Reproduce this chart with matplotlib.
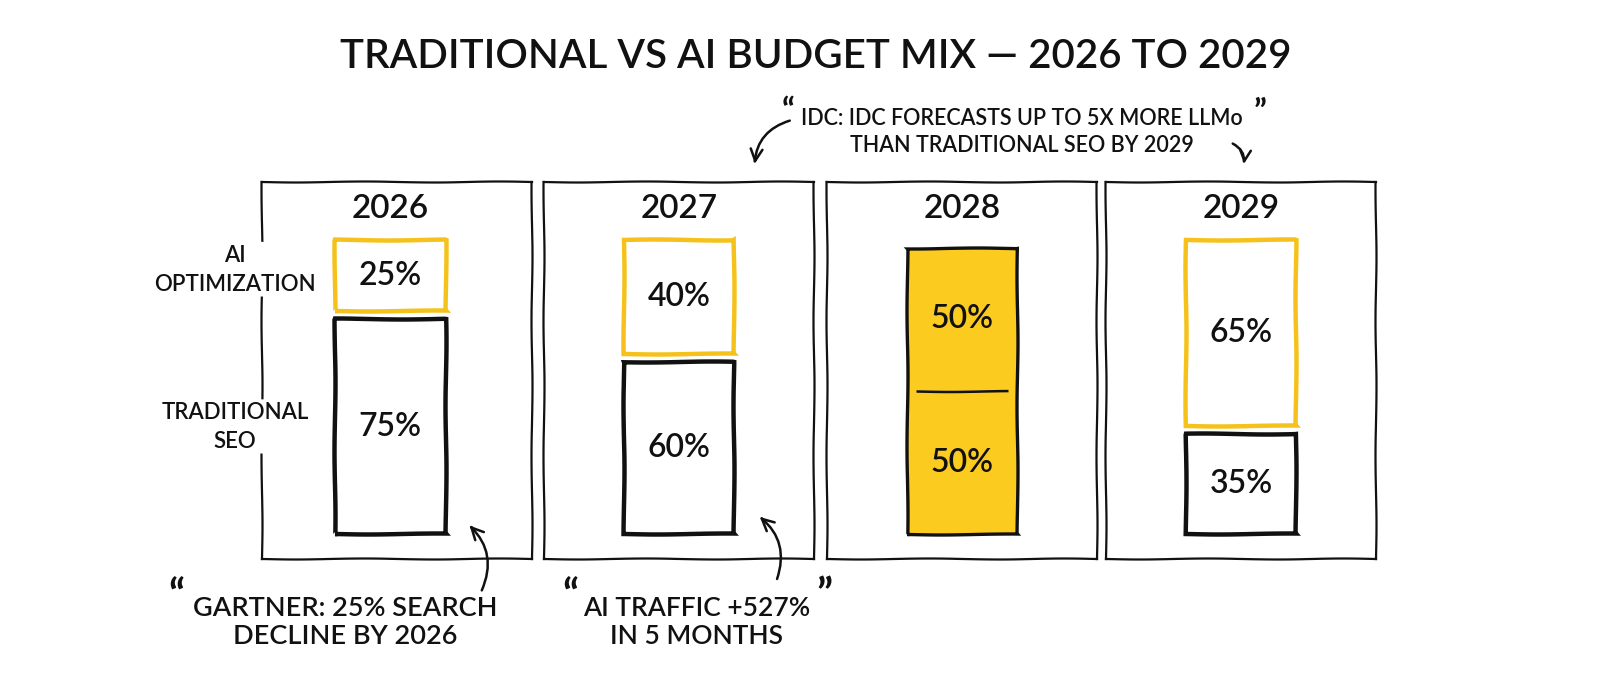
import numpy as np
import matplotlib
matplotlib.use("Agg")
import matplotlib.pyplot as plt

# Budget split per year (percent)
years = ["2026", "2027", "2028", "2029"]
ai_share = [25, 40, 50, 65]
traditional_share = [75, 60, 50, 35]
segment_labels = ["AI\nOPTIMIZATION", "TRADITIONAL\nSEO"]

title = "TRADITIONAL VS AI BUDGET MIX \u2014 2026 TO 2029"
idc_note = "IDC: IDC FORECASTS UP TO 5X MORE LLMo\nTHAN TRADITIONAL SEO BY 2029"
gartner_note = "GARTNER: 25% SEARCH\nDECLINE BY 2026"
traffic_note = "AI TRAFFIC +527%\nIN 5 MONTHS"

YELLOW = "#FBCB1F"
YELLOW_EDGE = "#F5C21B"
INK = "#111111"
GAP = 2.8

plt.rcParams["font.family"] = ["Lato", "DejaVu Sans"]
plt.rcParams["font.weight"] = "semibold"
plt.rcParams["path.sketch"] = (0.5, 140, 1.5)

fig = plt.figure(figsize=(16, 6.79), dpi=100)
W, H = 1600, 679

# panel boxes (left edge in pixels)
panel_left = [262, 544, 827, 1106]
panel_w, panel_top, panel_bottom = 270, 182, 559

axes = []
for i, year in enumerate(years):
    ax = fig.add_axes([panel_left[i] / W, 1 - panel_bottom / H,
                       panel_w / W, (panel_bottom - panel_top) / H])
    ax.set_xlim(-0.5, 0.5)
    ax.set_ylim(-8.7, 123)
    ax.set_xticks([])
    ax.set_yticks([])
    for sp in ax.spines.values():
        sp.set_linewidth(1.6)
        sp.set_color(INK)

    ai, trad = ai_share[i], traditional_share[i]
    x0 = -0.025 if i == 0 else 0.0
    if ai == trad:
        # equal split drawn as one filled bar with a divider
        ax.bar(x0, trad + ai, width=0.41, color=YELLOW, edgecolor=INK, linewidth=2.4)
        ax.hlines(trad, x0 - 0.17, x0 + 0.17, color=INK, linewidth=1.8)
        ai_bottom = trad
    else:
        ax.bar(x0, trad, width=0.41, color="white", edgecolor=INK, linewidth=3.2)
        ai_bottom = trad + GAP
        ax.bar(x0, ai, bottom=ai_bottom, width=0.41, color="white",
               edgecolor=YELLOW_EDGE, linewidth=3.2)
    ax.text(x0, trad / 2, f"{trad}%", ha="center", va="center", fontsize=23, color=INK)
    ax.text(x0, ai_bottom + ai / 2, f"{ai}%", ha="center", va="center", fontsize=23, color=INK)
    ax.text(x0, 113.5, year, ha="center", va="center", fontsize=24, color=INK)
    axes.append(ax)

# segment labels on the first panel, covering its left frame line
ax0 = axes[0]
ai_mid = traditional_share[0] + GAP + ai_share[0] / 2
trad_mid = traditional_share[0] / 2
for lbl, y in zip(segment_labels, [ai_mid + 2, trad_mid]):
    ax0.text(-0.6, y, lbl, ha="center", va="center", fontsize=16, color=INK,
             linespacing=1.45, clip_on=False, zorder=5,
             bbox=dict(facecolor="white", edgecolor="none", pad=2))

fig.text(0.51, 0.9175, title, ha="center", va="center", fontsize=29, color=INK)

# IDC note with arrows to the 2027 and 2029 panels
fig.text(1022 / W, 1 - 132 / H, idc_note, ha="center", va="center",
         fontsize=15.5, color=INK, linespacing=1.3)
fig.text(788 / W, 1 - 112 / H, "\u201c", ha="center", va="center", fontsize=24,
         color=INK, fontweight="bold")
fig.text(1260 / W, 1 - 112 / H, "\u201d", ha="center", va="center", fontsize=24,
         color=INK, fontweight="bold")
axes[1].annotate("", xy=(0.78, 1.04), xycoords="axes fraction",
                 xytext=(0.92, 1.165), textcoords="axes fraction",
                 arrowprops=dict(arrowstyle="->", color=INK, lw=1.8,
                                 connectionstyle="arc3,rad=0.35", mutation_scale=22))
axes[3].annotate("", xy=(0.51, 1.04), xycoords="axes fraction",
                 xytext=(0.46, 1.105), textcoords="axes fraction",
                 arrowprops=dict(arrowstyle="->", color=INK, lw=1.8,
                                 connectionstyle="arc3,rad=-0.4", mutation_scale=20))

# bottom notes
fig.text(345 / W, 1 - 622 / H, gartner_note, ha="center", va="center",
         fontsize=19.5, color=INK, linespacing=1.15)
fig.text(176 / W, 1 - 598 / H, "\u201c", ha="center", va="center", fontsize=30,
         color=INK, fontweight="bold")
axes[0].annotate("", xy=(0.76, 0.095), xycoords="axes fraction",
                 xytext=(0.81, -0.09), textcoords="axes fraction",
                 arrowprops=dict(arrowstyle="->", color=INK, lw=1.8,
                                 connectionstyle="arc3,rad=0.35", mutation_scale=22))

fig.text(697 / W, 1 - 622 / H, traffic_note, ha="center", va="center",
         fontsize=19, color=INK, linespacing=1.15)
fig.text(570 / W, 1 - 598 / H, "\u201c", ha="center", va="center", fontsize=30,
         color=INK, fontweight="bold")
fig.text(824 / W, 1 - 596 / H, "\u201d", ha="center", va="center", fontsize=30,
         color=INK, fontweight="bold")
axes[1].annotate("", xy=(0.79, 0.117), xycoords="axes fraction",
                 xytext=(0.86, -0.06), textcoords="axes fraction",
                 arrowprops=dict(arrowstyle="->", color=INK, lw=1.8,
                                 connectionstyle="arc3,rad=0.35", mutation_scale=22))

fig.savefig("out.png", dpi=100, facecolor="white")
